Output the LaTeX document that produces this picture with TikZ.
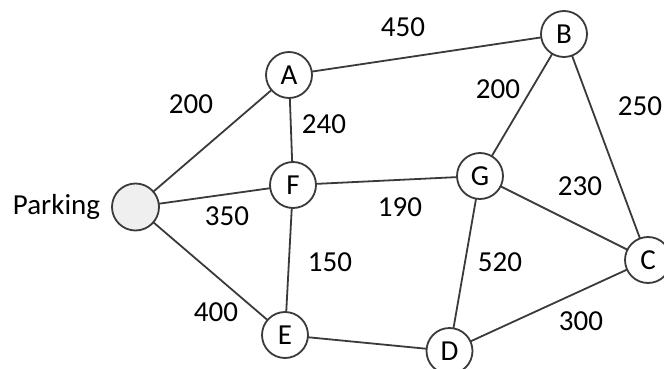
\documentclass[tikz,border=0pt]{standalone}
\usepackage{fontspec}
\setmainfont{Carlito}
\usetikzlibrary{positioning}
\definecolor{edgegray}{HTML}{3A3A3A}
\definecolor{parkfill}{HTML}{EFEFEF}

\begin{document}
\begin{tikzpicture}[x=1pt,y=-1pt,every node/.style={outer sep=0pt},
 font=\fontsize{29}{32}\selectfont,
 stop/.style={circle,draw=edgegray,line width=1.8pt,fill=white,minimum
 size=46pt,inner sep=0pt},
 road/.style={draw=edgegray,line width=1.8pt},
 dist/.style={inner sep=0pt}]
  \useasboundingbox (0,0) rectangle (664,369);

  \node[stop,fill=parkfill,minimum size=47pt] (park) at (135.5,207) {};
  \node[stop] (A) at (289,75) {A};
  \node[stop] (B) at (564,34) {B};
  \node[stop] (F) at (293,185) {F};
  \node[stop] (G) at (480,176) {G};
  \node[stop] (C) at (648,260) {C};
  \node[stop] (E) at (285,335) {E};
  \node[stop] (D) at (449.5,351) {D};
  \node[left=12pt of park,inner sep=0pt] (plabel) {Parking};

  % roads between the stops
  \foreach \S/\T in {park/A,park/F,park/E,A/B,A/F,F/G,F/E,B/G,B/C,G/C,G/D,E/D,D/C}
   {\draw[road] (\S) -- (\T);}

  % distances
  \node[dist] (dAB) at (403,27) {450};
  \node[dist] (dPA) at (191,104) {200};
  \node[dist] (dAF) at (324,124) {240};
  \node[dist] (dBG) at (498,89) {200};
  \node[dist] (dBC) at (640,106) {250};
  \node[dist] (dGC) at (580,186) {230};
  \node[dist] (dFG) at (400,207) {190};
  \node[dist] (dPF) at (227,216) {350};
  \node[dist] (dFE) at (330,262) {150};
  \node[dist] (dGD) at (500,262) {520};
  \node[dist] (dPE) at (216,312) {400};
  \node[dist] (dDC) at (581,321) {300};
\end{tikzpicture}
\end{document}
